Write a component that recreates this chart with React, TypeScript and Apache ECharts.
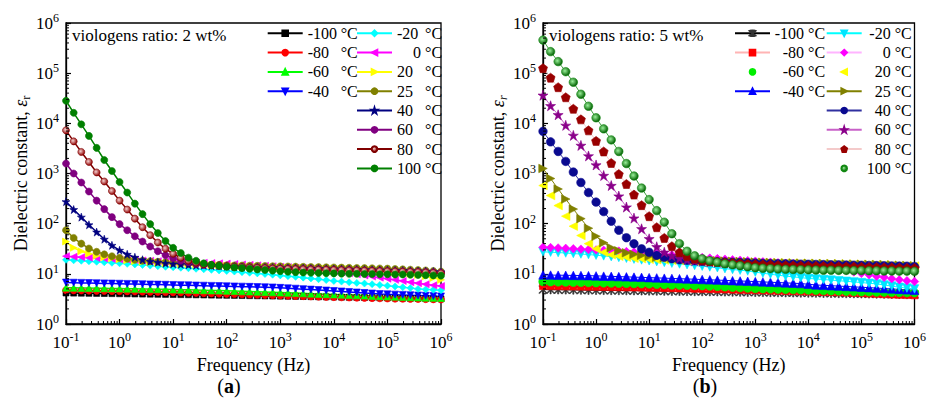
import React, { useEffect, useRef } from 'react';
import * as echarts from 'echarts';

const FONT = "'Liberation Serif', 'Times New Roman', serif";

// Frequency grid (Hz), 7 points per decade
const freq = [
  0.1, 0.139, 0.193, 0.268, 0.373, 0.518, 0.72,
  1, 1.39, 1.93, 2.68, 3.73, 5.18, 7.2,
  10, 13.9, 19.3, 26.8, 37.3, 51.8, 72,
  100, 139, 193, 268, 373, 518, 720,
  1000, 1390, 1930, 2680, 3730, 5180, 7200,
  1e4, 13900, 19300, 26800, 37300, 51800, 72000,
  1e5, 139000, 193000, 268000, 373000, 518000, 720000,
  1e6,
];

// ---------- Panel (a): 2 wt% ----------
const epsA_m100 = [4.15,4.13,4.11,4.09,4.07,4.05,4.03, 4.01,3.99,3.97,3.95,3.93,3.91,3.89, 3.87,3.85,3.83,3.81,3.79,3.77,3.75, 3.73,3.71,3.69,3.67,3.65,3.63,3.61, 3.59,3.57,3.55,3.53,3.51,3.49,3.47, 3.45,3.43,3.41,3.39,3.37,3.35,3.33, 3.31,3.29,3.27,3.25,3.23,3.21,3.19, 3.17];
const epsA_m80 = [4.7,4.67,4.64,4.61,4.58,4.55,4.52, 4.49,4.46,4.43,4.4,4.37,4.34,4.31, 4.27,4.23,4.19,4.15,4.11,4.07,4.03, 3.99,3.95,3.91,3.87,3.83,3.79,3.75, 3.71,3.67,3.63,3.59,3.55,3.51,3.47, 3.43,3.4,3.37,3.34,3.31,3.28,3.25, 3.22,3.2,3.18,3.16,3.14,3.12,3.1, 3.08];
const epsA_m60 = [5.3,5.27,5.24,5.21,5.18,5.15,5.12, 5.09,5.06,5.03,5.0,4.97,4.94,4.91, 4.87,4.83,4.79,4.75,4.71,4.67,4.63, 4.58,4.53,4.48,4.43,4.38,4.33,4.28, 4.23,4.18,4.13,4.08,4.03,3.98,3.93, 3.88,3.83,3.78,3.73,3.68,3.63,3.58, 3.54,3.5,3.46,3.42,3.38,3.35,3.32, 3.3];
const epsA_m40 = [6.7,6.65,6.6,6.55,6.5,6.45,6.4, 6.35,6.3,6.25,6.2,6.15,6.1,6.05, 6.0,5.95,5.9,5.85,5.8,5.75,5.7, 5.65,5.6,5.55,5.5,5.45,5.4,5.35, 5.25,5.15,5.05,4.95,4.85,4.75,4.65, 4.55,4.45,4.35,4.25,4.15,4.05,3.95, 3.9,3.85,3.8,3.75,3.7,3.65,3.6, 3.55];
const epsA_m20 = [19,18.6,18.2,17.8,17.4,17,16.6, 16.2,15.8,15.4,15,14.6,14.2,13.8, 13.5,13.2,12.9,12.6,12.3,12,11.7, 11.4,11.1,10.8,10.5,10.2,9.9,9.6, 9.3,9,8.7,8.4,8.1,7.8,7.5, 7.2,7,6.8,6.6,6.4,6.2,6, 5.8,5.6,5.4,5.2,5,4.9,4.8, 4.7];
const epsA_0 = [22.5,22,21.5,21,20.6,20.2,19.8, 19.4,19.1,18.8,18.5,18.2,17.9,17.6, 17.4,17.2,17,16.8,16.6,16.4,16.2, 16,15.7,15.4,15.1,14.8,14.5,14.2, 13.9,13.6,13.3,13,12.6,12.2,11.8, 11.3,10.8,10.3,9.8,9.3,8.8,8.4, 8,7.6,7.2,6.8,6.5,6.2,5.9, 5.7];
const epsA_20 = [44,33,28.2,25.1,22.9,21.4,20.4, 19.5,18.6,17.8,17.4,17,16.6,16.2, 15.8,15.5,15.5,15.1,15.1,14.8,14.8, 14.5,14.3,14.1,13.9,13.7,13.6,13.5, 13.4,13.3,13.2,13.1,13,12.9,12.8, 12.7,12.6,12.5,12.3,12.1,11.9,11.6, 11.3,10.9,10.5,10,9.5,8.9,8.3, 7.6];
const epsA_25 = [74,52,40,32,27.5,24.5,22.4, 20.9,20,19.1,18.2,17.8,17.4,17, 16.6,16.2,15.8,15.5,15.5,15.1,15.1, 14.8,14.7,14.6,14.5,14.4,14.3,14.2, 14.1,14,13.9,13.8,13.7,13.6,13.5, 13.4,13.3,13.2,13.1,13,12.9,12.8, 12.7,12.5,12.3,12.1,11.9,11.7,11.4, 11.1];
const epsA_40 = [275,191,135,95,68,49,37, 29.5,24.5,21.4,19.1,17.8,17,16.2, 15.8,15.5,15.1,14.8,14.8,14.5,14.5, 14.1,13.9,13.7,13.6,13.5,13.4,13.3, 13.2,13.1,13,12.9,12.8,12.7,12.6, 12.5,12.4,12.3,12.2,12.1,12,11.9, 11.8,11.7,11.6,11.5,11.4,11.3,11.1, 10.9];
const epsA_60 = [1580,1000,661,437,288,195,135, 98,74,56,44,35,28.2,23.4, 20.4,18.2,17,15.8,15.1,14.8,14.5, 14.1,13.9,13.7,13.5,13.3,13.1,12.9, 12.8,12.7,12.6,12.5,12.4,12.3,12.2, 12.1,12,11.9,11.8,11.7,11.6,11.5, 11.4,11.3,11.2,11.1,11,10.9,10.7, 10.5];
const epsA_80 = [7240,4370,2690,1700,1050,692,447, 288,191,126,85,59,42,31.6, 25.1,20.9,18.2,16.6,15.5,14.8,14.5, 14.1,13.8,13.5,13.3,13.1,12.9,12.7, 12.6,12.5,12.4,12.3,12.2,12.1,12, 11.9,11.8,11.7,11.6,11.5,11.4,11.3, 11.2,11.1,11,10.9,10.8,10.6,10.4, 10.2];
const epsA_100 = [28200,16200,9550,5620,3240,1860,1120, 676,417,251,155,98,65,45, 33,26,21,18.2,16.2,15.1,14.5, 13.8,13.4,13,12.6,12.2,11.9,11.6, 11.3,11,10.8,10.6,10.5,10.4,10.3, 10.2,10.1,10,10,9.9,9.9,9.8, 9.8,9.7,9.7,9.6,9.5,9.4,9.3, 9.2];

// ---------- Panel (b): 5 wt% ----------
const epsB_m100 = [4.85,4.83,4.81,4.79,4.77,4.75,4.73, 4.71,4.69,4.67,4.65,4.63,4.61,4.59, 4.57,4.55,4.53,4.51,4.49,4.47,4.45, 4.43,4.41,4.39,4.37,4.35,4.33,4.31, 4.29,4.27,4.25,4.23,4.21,4.19,4.17, 4.15,4.13,4.11,4.09,4.07,4.05,4.03, 4.01,3.99,3.97,3.95,3.93,3.91,3.89, 3.87];
const epsB_m80 = [5.7,5.67,5.64,5.61,5.58,5.55,5.52, 5.49,5.46,5.43,5.4,5.37,5.34,5.31, 5.27,5.23,5.19,5.15,5.11,5.07,5.03, 4.99,4.95,4.91,4.87,4.83,4.79,4.75, 4.71,4.67,4.63,4.59,4.55,4.51,4.47, 4.43,4.39,4.35,4.31,4.27,4.22,4.16, 4.1,4.04,3.98,3.92,3.86,3.81,3.77, 3.73];
const epsB_m60 = [7,6.95,6.9,6.85,6.8,6.75,6.7, 6.65,6.6,6.55,6.5,6.45,6.4,6.35, 6.3,6.2,6.1,6,5.95,5.9,5.85, 5.8,5.7,5.6,5.5,5.4,5.3,5.2, 5.1,5.05,5,4.95,4.9,4.85,4.8, 4.75,4.7,4.65,4.6,4.55,4.5,4.45, 4.4,4.37,4.34,4.31,4.28,4.25,4.22, 4.2];
const epsB_m40 = [9.5,9.45,9.4,9.35,9.3,9.25,9.2, 9.1,9,8.9,8.8,8.7,8.6,8.5, 8.4,8.3,8.2,8.1,8,7.9,7.8, 7.7,7.6,7.5,7.4,7.3,7.2,7.1, 7,6.9,6.8,6.7,6.6,6.5,6.4, 6.2,6,5.9,5.8,5.7,5.6,5.5, 5.4,5.3,5.2,5.1,5,4.9,4.8, 4.7];
const epsB_m20 = [27.5,27,26.5,26,25.4,24.8,24.2, 23.5,22.8,22,21.2,20.4,19.6,18.9, 18.2,17.5,16.9,16.3,15.7,15.2,14.7, 14.2,13.7,13.2,12.7,12.2,11.8,11.4, 10.8,10.3,9.8,9.4,9,8.7,8.4, 8.1,7.9,7.7,7.5,7.3,7.1,6.9, 6.7,6.5,6.3,6,5.7,5.4,5.2, 5];
const epsB_0 = [34,33.4,32.8,32.2,31.6,31,30.5, 30,29.5,29,28.4,27.8,27.2,26.6, 26,25.3,24.6,23.9,23.2,22.5,21.8, 21.2,20.6,20.1,19.6,19.1,18.7,18.3, 17.9,17.5,17.1,16.7,16.3,15.9,15.5, 14.8,14.2,13.6,13,12.3,11.6,10.9, 10.2,9.6,9,8.5,8,7.6,7.3, 7];
const epsB_20 = [575,363,229,141,89,58,40, 31.6,26.9,24,22.4,21.4,20.4,20, 19.5,19.1,18.8,18.6,18.4,18.2,18, 17.8,17.6,17.4,17.3,17.2,17.1,17, 16.9,16.8,16.7,16.6,16.5,16.4,16.3, 16.2,16.1,16,15.9,15.8,15.7,15.6, 15.5,15.4,15.3,15.1,14.9,14.7,14.5, 14.3];
const epsB_25 = [1260,794,490,309,195,126,81, 56,41.7,33.1,28.8,26.3,24.5,23.4, 22.4,21.4,20.9,20.4,20,19.5,19.1, 18.6,18.4,18.2,18,17.8,17.6,17.4, 17.2,17,16.8,16.6,16.5,16.4,16.3, 16.2,16.1,16,15.9,15.8,15.7,15.6, 15.5,15.4,15.3,15.2,15,14.8,14.6, 14.4];
const epsB_40 = [6920,4270,2750,1740,1070,661,417, 269,174,112,74,52.5,39.8,31.6, 26.9,23.4,21.4,20,19.1,18.6,18.2, 17.8,17.6,17.4,17.2,17,16.8,16.6, 16.4,16.2,16,15.9,15.8,15.7,15.6, 15.5,15.4,15.3,15.2,15.1,15,14.9, 14.8,14.7,14.6,14.5,14.4,14.3,14.2, 14];
const epsB_60 = [36300,22400,14800,9120,5750,3630,2240, 1480,912,575,355,214,129,79, 50,34.7,26.9,22.9,20.4,19.1,18.2, 17.8,17.4,17,16.6,16.2,15.8,15.5, 15.5,15.3,15.1,14.9,14.7,14.6,14.5, 14.4,14.3,14.2,14.1,14,13.9,13.8, 13.7,13.6,13.5,13.4,13.3,13.2,13.1, 13];
const epsB_80 = [126000,81300,52500,33100,19500,12000,7240, 4470,2750,1620,977,617,380,234, 141,85,52,35.5,26.9,22.4,20, 18.6,17.8,17.4,17,16.6,16.2,15.8, 15.5,15.3,15.1,14.9,14.7,14.6,14.5, 14.4,14.3,14.2,14.1,14,13.9,13.8, 13.7,13.6,13.5,13.4,13.3,13.2,13.1, 13];
const epsB_100 = [457000,269000,170000,107000,66000,38000,21900, 12900,7760,4680,2750,1580,891,513, 302,182,107,63,40,28.2,22.9, 20,18.2,17,15.8,15.1,14.5,13.8, 13.2,12.9,12.7,12.5,12.3,12.2,12.1, 12,11.9,11.8,11.8,11.7,11.7,11.6, 11.6,11.5,11.5,11.4,11.4,11.3,11.3, 11.2];

// Axis decades and minor-tick multipliers
const xDecades = [0.1, 1, 10, 100, 1e3, 1e4, 1e5];
const yDecades = [1, 10, 100, 1e3, 1e4, 1e5];
const minorMult = [2, 3, 4, 5, 6, 7, 8, 9];

const STAR = 'path://M50,0L61.2,34.5L97.6,34.5L68.2,55.9L79.4,90.5L50,69.1L20.6,90.5L31.8,55.9L2.4,34.5L38.8,34.5Z';
const PENTAGON = 'path://M50,0L97.6,34.5L79.4,90.5L20.6,90.5L2.4,34.5Z';
const ASTERISK = 'path://M46,0L54,0L54,100L46,100Z M28.5,4.7L78.5,91.3L71.5,95.3L21.5,8.7Z M78.5,8.7L28.5,95.3L21.5,91.3L71.5,4.7Z';

type Spec = {
  num: string; data: number[]; color: string; symbol: string; rotate?: number;
  fill?: any; line?: string; lw?: number; size?: number; legendNoLine?: boolean;
};

const radial = (c0: string, c1: string) => ({
  type: 'radial', x: 0.4, y: 0.4, r: 0.6,
  colorStops: [{ offset: 0, color: c0 }, { offset: 1, color: c1 }],
});

const specA: Spec[] = [
  { num: '-100', data: epsA_m100, color: '#000000', symbol: 'rect', size: 6 },
  { num: '-80', data: epsA_m80, color: '#ff0000', symbol: 'circle' },
  { num: '-60', data: epsA_m60, color: '#00ff00', symbol: 'triangle' },
  { num: '-40', data: epsA_m40, color: '#0000ff', symbol: 'triangle', rotate: 180 },
  { num: '-20', data: epsA_m20, color: '#00ffff', symbol: 'diamond' },
  { num: '0', data: epsA_0, color: '#ff00ff', symbol: 'triangle', rotate: 90 },
  { num: '20', data: epsA_20, color: '#ffff00', symbol: 'triangle', rotate: -90 },
  { num: '25', data: epsA_25, color: '#808000', symbol: 'circle' },
  { num: '40', data: epsA_40, color: '#000080', symbol: STAR, size: 8 },
  { num: '60', data: epsA_60, color: '#800080', symbol: 'circle' },
  { num: '80', data: epsA_80, color: '#800000', symbol: 'circle', fill: radial('#f4d0d0', '#900000') },
  { num: '100', data: epsA_100, color: '#008000', symbol: 'circle' },
];

const specB: Spec[] = [
  { num: '-100', data: epsB_m100, color: '#333333', symbol: ASTERISK, line: '#000000' },
  { num: '-80', data: epsB_m80, color: '#ff0000', symbol: 'rect', line: '#ffb4b4', size: 7 },
  { num: '-60', data: epsB_m60, color: '#00ee00', symbol: 'circle', lw: 0 },
  { num: '-40', data: epsB_m40, color: '#0000ff', symbol: 'triangle' },
  { num: '-20', data: epsB_m20, color: '#00e5ff', symbol: 'triangle', rotate: 180, line: '#00ffff' },
  { num: '0', data: epsB_0, color: '#ff00ff', symbol: 'diamond', line: '#ffb4ff' },
  { num: '20', data: epsB_20, color: '#ffff00', symbol: 'triangle', rotate: 90, lw: 0 },
  { num: '25', data: epsB_25, color: '#808000', symbol: 'triangle', rotate: -90 },
  { num: '40', data: epsB_40, color: '#0a0a90', symbol: 'circle', line: '#3030a0' },
  { num: '60', data: epsB_60, color: '#8a008a', symbol: STAR, line: '#c860c8', size: 10 },
  { num: '80', data: epsB_80, color: '#990000', symbol: PENTAGON, line: '#f4caca', size: 9 },
  { num: '100', data: epsB_100, color: '#118811', symbol: 'circle', fill: radial('#9af09a', '#006000'), line: '#40a040', legendNoLine: true },
];

function mkSeries(panel: string, g: number, specs: Spec[], size: number, lw: number) {
  return specs.map((s) => ({
    type: 'line',
    name: `${panel}|${s.num}`,
    xAxisIndex: g,
    yAxisIndex: g,
    data: freq.map((f, i) => [f, s.data[i]]),
    symbol: s.symbol,
    symbolSize: s.size ?? size,
    symbolRotate: s.rotate ?? 0,
    showSymbol: true,
    showAllSymbol: true,
    itemStyle: { color: s.fill ?? s.color, borderColor: s.color, borderWidth: 0.6 },
    lineStyle: { color: s.line ?? s.color, width: s.lw ?? lw, opacity: s.lw === 0 ? 0 : 1 },
    emphasis: { disabled: true },
    silent: true,
  }));
}

function minorSeries(g: number) {
  const data: number[][] = [];
  xDecades.forEach((d) => minorMult.forEach((m) => data.push([m * d, 1, 0])));
  yDecades.forEach((d) => minorMult.forEach((m) => data.push([0.1, m * d, 1])));
  return {
    type: 'custom',
    xAxisIndex: g,
    yAxisIndex: g,
    silent: true,
    z: 5,
    clip: false,
    encode: { x: 0, y: 1 },
    data,
    renderItem: (_p: any, api: any) => {
      const kind = api.value(2);
      const p = api.coord([api.value(0), api.value(1)]);
      return kind === 0
        ? { type: 'line', shape: { x1: p[0], y1: p[1], x2: p[0], y2: p[1] - 3 }, style: { stroke: '#000', lineWidth: 1 } }
        : { type: 'line', shape: { x1: p[0], y1: p[1], x2: p[0] + 3, y2: p[1] }, style: { stroke: '#000', lineWidth: 1 } };
    },
  };
}

const tickRich = {
  b: { fontSize: 17, lineHeight: 22, fontFamily: FONT, color: '#000' },
  s: { fontSize: 12, lineHeight: 12, verticalAlign: 'top', fontFamily: FONT, color: '#000' },
};
const powFmt = (v: number) => `{b|10}{s|${Math.round(Math.log10(v))}}`;

const legStyle = { fontSize: 16, lineHeight: 17, fontFamily: FONT, color: '#000' };
const legRich: any = {
  L28: { width: 29, ...legStyle },
  L23: { width: 24, ...legStyle },
  R28: { width: 29, align: 'right', ...legStyle },
  R23: { width: 24, align: 'right', ...legStyle },
  u: { ...legStyle },
  uR: { align: 'right', ...legStyle },
};

function mkLegend(panel: string, specs: Spec[], left: number, mode: 'L28' | 'L23' | 'R28' | 'R23') {
  return {
    show: true,
    orient: 'vertical',
    left,
    top: 24.8,
    padding: 0,
    itemGap: 2.3,
    itemWidth: 35,
    itemHeight: 7,
    selectedMode: false,
    data: specs.map((s) => (s.legendNoLine ? { name: `${panel}|${s.num}`, lineStyle: { opacity: 0, width: 0 } } : { name: `${panel}|${s.num}` })),
    formatter: (name: string) => {
      const num = name.split('|')[1];
      if (mode === 'L23' && num === '0') return `{R23|0}{uR| °C}`;
      if (mode === 'R28' || mode === 'R23') return `{${mode}|${num}}{uR| °C}`;
      return `{${mode}|${num}}{u| °C}`;
    },
    textStyle: { ...legStyle, rich: legRich },
  };
}

function mkX(g: number) {
  return {
    type: 'log', logBase: 10, gridIndex: g, min: 0.1, max: 1e6, splitNumber: 7,
    name: 'Frequency (Hz)', nameLocation: 'middle', nameGap: 24,
    nameTextStyle: { fontSize: 18, color: '#000', fontFamily: FONT, lineHeight: 20 },
    axisLine: { show: true, lineStyle: { color: '#000', width: 1.3 } },
    axisTick: { show: true, inside: true, length: 5, lineStyle: { color: '#000', width: 1.2 } },
    axisLabel: { margin: 7, formatter: powFmt, rich: tickRich, fontFamily: FONT, showMinLabel: true, showMaxLabel: true },
    splitLine: { show: false },
  };
}

function mkY(g: number, italicR: boolean) {
  return {
    type: 'log', logBase: 10, gridIndex: g, min: 1, max: 1e6, splitNumber: 6,
    name: `{t|Dielectric constant, }{e|ε}{r|r}`, nameLocation: 'middle', nameGap: 34,
    nameTextStyle: {
      fontSize: 18, color: '#000', fontFamily: FONT,
      rich: {
        t: { fontSize: 18, lineHeight: 22, fontFamily: FONT, color: '#000' },
        e: { fontSize: 18, lineHeight: 22, fontStyle: 'italic', fontFamily: FONT, color: '#000' },
        r: { fontSize: 12, lineHeight: 12, verticalAlign: 'bottom', fontStyle: italicR ? 'italic' : 'normal', fontFamily: FONT, color: '#000' },
      },
    },
    axisLine: { show: true, lineStyle: { color: '#000', width: 1.3 } },
    axisTick: { show: true, inside: true, length: 5, lineStyle: { color: '#000', width: 1.2 } },
    axisLabel: { margin: 7, formatter: powFmt, rich: tickRich, fontFamily: FONT, showMinLabel: true, showMaxLabel: true },
    splitLine: { show: false },
  };
}

function buildOption(): any {
  const panelLabel = (x: number, letter: string) => ({
    type: 'text', x, y: 386, silent: true,
    style: {
      text: `{n|(}{b|${letter}}{n|)}`, align: 'center', verticalAlign: 'middle',
      textAlign: 'center', textVerticalAlign: 'middle',
      rich: {
        n: { fontSize: 20, fontFamily: FONT, fill: '#000', color: '#000' },
        b: { fontSize: 20, fontFamily: FONT, fontWeight: 'bold', fill: '#000', color: '#000' },
      },
    },
  });
  const note = (x: number, text: string) => ({
    type: 'text', x, y: 35, silent: true,
    style: { text, fontSize: 17, fontFamily: FONT, font: `17px ${FONT}`, fill: '#000', verticalAlign: 'middle', textVerticalAlign: 'middle' },
  });
  return {
    animation: false,
    backgroundColor: '#ffffff',
    textStyle: { fontFamily: FONT },
    grid: [
      { left: 66, top: 23, width: 375, height: 301, show: true, borderColor: '#000', borderWidth: 1.3 },
      { left: 543, top: 23, width: 374, height: 301, show: true, borderColor: '#000', borderWidth: 1.3 },
    ],
    xAxis: [mkX(0), mkX(1)],
    yAxis: [mkY(0, false), mkY(1, true)],
    legend: [
      mkLegend('A', specA.slice(0, 4), 266.7, 'L28'),
      mkLegend('A', specA.slice(4), 356, 'L23'),
      mkLegend('B', specB.slice(0, 4), 734, 'R28'),
      mkLegend('B', specB.slice(4), 825.7, 'R23'),
    ],
    graphic: [
      note(72, 'viologens ratio: 2 wt%'),
      note(549, 'viologens ratio: 5 wt%'),
      panelLabel(229, 'a'),
      panelLabel(705, 'b'),
    ],
    series: [
      ...mkSeries('A', 0, specA, 7, 1.5),
      ...mkSeries('B', 1, specB, 8.5, 1),
      minorSeries(0),
      minorSeries(1),
    ],
  };
}

export default function App() {
  const ref = useRef<HTMLDivElement>(null);
  useEffect(() => {
    if (!ref.current) return;
    const chart = echarts.init(ref.current, undefined, { renderer: 'svg' });
    chart.setOption(buildOption());
    return () => chart.dispose();
  }, []);
  return (
    <div
      ref={ref}
      style={{ position: 'absolute', left: 0, top: 0, width: 929, height: 398, background: '#fff' }}
    />
  );
}
